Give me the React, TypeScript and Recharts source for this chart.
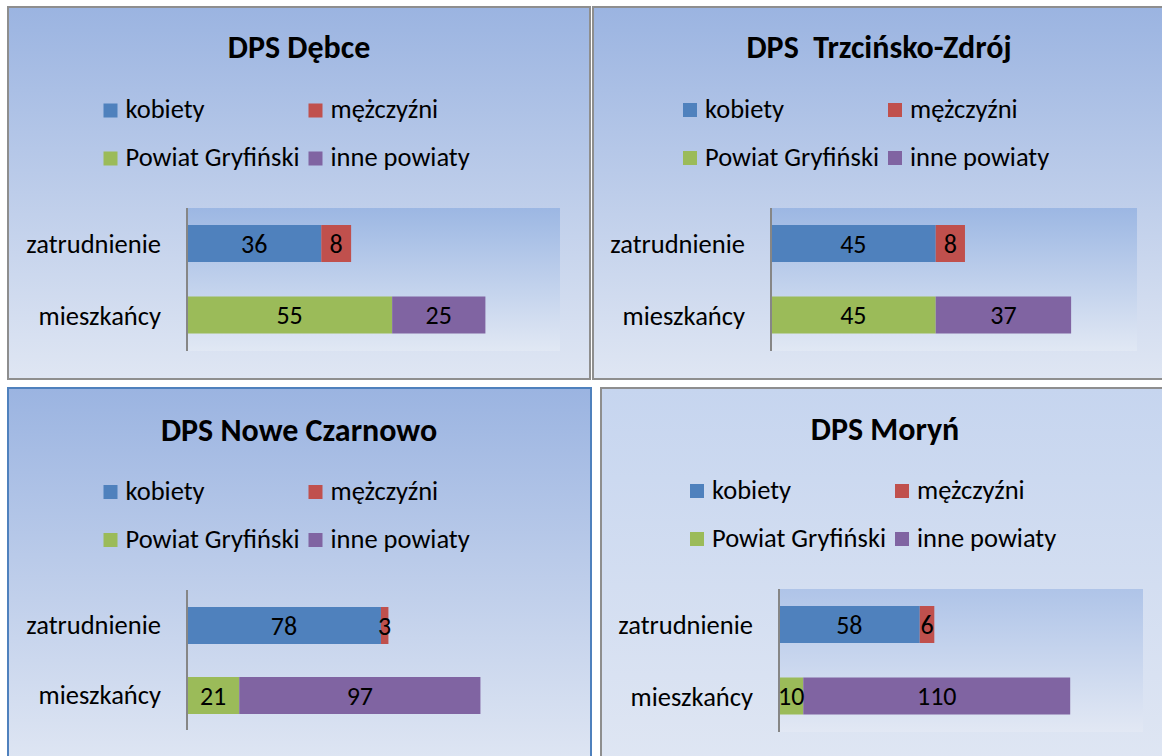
import React from 'react';
import { BarChart, Bar, XAxis, YAxis, CartesianGrid, Legend, LabelList } from 'recharts';

const categories = ['zatrudnienie', 'mieszkańcy'];
const seriesNames = ['kobiety', 'mężczyźni', 'Powiat Gryfiński', 'inne powiaty'];
const seriesColors = ['#4f81bd', '#c0504d', '#9bbb59', '#8064a2'];

const titles = ['DPS Dębce', 'DPS  Trzcińsko-Zdrój', 'DPS Nowe Czarnowo', 'DPS Moryń'];
const kobiety = [36, 45, 78, 58];
const mezczyzni = [8, 8, 3, 6];
const powiatGryfinski = [55, 45, 21, 10];
const innePowiaty = [25, 37, 97, 110];
const axisMax = [100, 100, 150, 150];

const FONT = 'Carlito, Lato, sans-serif';

const panels = [
  { left: 7, top: 6, w: 584, h: 374, border: '#8e8e8e', bg: ['#9bb4e1', '#dfe6f3'], margin: { top: 200, right: 29, bottom: 27, left: 0 }, yw: 178, plotBg: ['#9cb7e3', '#e1e8f4'], titleX: 290, titleY: 50, legX: 94.5, legY: 95.5 },
  { left: 592, top: 6, w: 580, h: 374, border: '#8e8e8e', bg: ['#9bb4e1', '#dfe6f3'], margin: { top: 200, right: 33, bottom: 27, left: 0 }, yw: 177, plotBg: ['#9cb7e3', '#e1e8f4'], titleX: 285, titleY: 50, legX: 89, legY: 95 },
  { left: 7, top: 387, w: 585, h: 380, border: '#4f81bd', bg: ['#9bb4e1', '#dfe6f3'], margin: { top: 201, right: 30, bottom: 35, left: 0 }, yw: 178, plotBg: null, titleX: 290, titleY: 52, legX: 94.5, legY: 96 },
  { left: 600, top: 387, w: 570, h: 380, border: '#8e8e8e', bg: ['#c6d5ef', '#dfe6f3'], margin: { top: 200, right: 25, bottom: 33, left: 0 }, yw: 177, plotBg: ['#afc4e8', '#e2e8f4'], titleX: 283, titleY: 51, legX: 88, legY: 95 },
];

function panelData(i: number) {
  return [
    { cat: categories[0], s0: kobiety[i], s1: mezczyzni[i] },
    { cat: categories[1], s2: powiatGryfinski[i], s3: innePowiaty[i] },
  ];
}

const BarLabel = (props: any) => {
  const { x, y, width, height, value } = props;
  if (value === undefined || value === null || value === 0) return null;
  return (
    <text x={x + width / 2} y={y + height / 2 + 9} textAnchor="middle" fontSize={26} fontFamily={FONT} fill="#000">
      {value}
    </text>
  );
};

function LegendBox({ i }: { i: number }) {
  const p = panels[i];
  const cols = [p.legX, p.legX + 205];
  const rows = [p.legY, p.legY + 48];
  return (
    <svg width={p.w - 4} height={180} style={{ display: 'block', overflow: 'visible' }}>
      {seriesNames.map((name, k) => {
        const cx = cols[k % 2];
        const ry = rows[Math.floor(k / 2)];
        return (
          <g key={k}>
            <rect x={cx} y={ry} width={14} height={14} fill={seriesColors[k]} />
            <text x={cx + 22} y={ry + 14.5} fontSize={26.5} fontFamily={FONT} fill="#000">{name}</text>
          </g>
        );
      })}
    </svg>
  );
}

function Panel({ i }: { i: number }) {
  const p = panels[i];
  const cw = p.w - 4;
  const ch = p.h - 4;
  return (
    <div style={{ position: 'absolute', left: p.left, top: p.top, width: p.w, height: p.h, boxSizing: 'border-box', border: `2px solid ${p.border}`, background: `linear-gradient(to bottom, ${p.bg[0]}, ${p.bg[1]})` }}>
      <BarChart width={cw} height={ch} data={panelData(i)} layout="vertical" margin={p.margin} barSize={37}>
        <defs>
          <linearGradient id={`pg${i}`} x1="0" y1="0" x2="0" y2="1">
            <stop offset="0%" stopColor={p.plotBg ? p.plotBg[0] : '#fff'} />
            <stop offset="100%" stopColor={p.plotBg ? p.plotBg[1] : '#fff'} />
          </linearGradient>
        </defs>
        {p.plotBg && <CartesianGrid horizontal={false} vertical={false} fill={`url(#pg${i})`} stroke="none" />}
        <XAxis type="number" domain={[0, axisMax[i]]} hide />
        <YAxis
          type="category"
          dataKey="cat"
          width={p.yw}
          axisLine={{ stroke: '#868686', strokeWidth: 2 }}
          tickLine={false}
          tickSize={0}
          tickMargin={26}
          tick={{ fill: '#000', fontSize: 26.5, fontFamily: FONT }}
        />
        <Legend
          layout="horizontal"
          verticalAlign="middle"
          align="center"
          wrapperStyle={{ left: 0, top: 0, width: cw, height: 180 }}
          content={() => <LegendBox i={i} />}
        />
        {seriesNames.map((name, k) => (
          <Bar key={k} dataKey={`s${k}`} name={name} stackId="a" fill={seriesColors[k]} isAnimationActive={false}>
            <LabelList dataKey={`s${k}`} content={BarLabel} />
          </Bar>
        ))}
      </BarChart>
      <svg width={cw} height={70} style={{ position: 'absolute', left: 0, top: 0, pointerEvents: 'none' }}>
        <text x={p.titleX} y={p.titleY} textAnchor="middle" fontSize={32} fontWeight="bold" fontFamily={FONT} fill="#000" style={{ whiteSpace: 'pre' }}>
          {titles[i]}
        </text>
      </svg>
    </div>
  );
}

export default function App() {
  return (
    <div style={{ position: 'fixed', left: 0, top: 0, width: 1162, height: 756, overflow: 'hidden', background: '#fff' }}>
      {[0, 1, 2, 3].map((i) => (
        <Panel key={i} i={i} />
      ))}
    </div>
  );
}
